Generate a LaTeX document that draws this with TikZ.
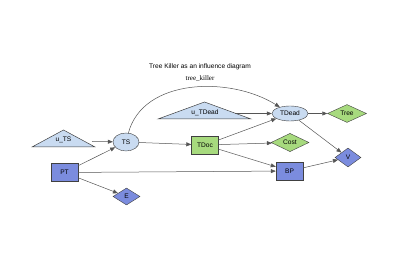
\documentclass[tikz,border=0pt]{standalone}
\usepackage{fontspec}
\setmainfont{Liberation Serif}
\setsansfont{Liberation Sans}
\usetikzlibrary{shapes.geometric,arrows.meta}
\definecolor{chancefill}{HTML}{C9DBF1}
\definecolor{decisionfill}{HTML}{7B8CDE}
\definecolor{utilityfill}{HTML}{A7DA7E}
\definecolor{edgegray}{HTML}{555555}

\tikzset{
    nodefont/.style={font=\sffamily\fontsize{6.6}{7}\selectfont},
    chance/.style={nodefont, ellipse, draw=black!75, fill=chancefill, inner sep=0pt},
    decision/.style={nodefont, rectangle, draw=black!75, fill=decisionfill, minimum width=27pt, minimum height=18pt, inner sep=0pt},
    utility/.style={nodefont, diamond, draw=black!75, inner sep=0pt},
    uncert/.style={draw=black!75, fill=chancefill, line width=0.5pt},
    edge/.style={draw=edgegray, line width=0.5pt, -{Triangle[length=5pt, width=4pt]}}
}

\begin{document}
\begin{tikzpicture}[x=1pt, y=-1pt]
    \useasboundingbox (0,0) rectangle (400,280);

    % Title
    \node[nodefont] (title) at (200,67) {Tree Killer as an influence diagram};
    \node[font=\fontsize{7}{8}\selectfont] (name) at (200,79) {tree\_killer};

    % Uncertainties (triangles)
    \draw[uncert] (32,147) -- (63.5,130) -- (95,147) -- cycle;
    \node[nodefont] (uTS) at (63.5,140) {u\_TS};
    \coordinate (uTSout) at (92,141.5);
    \draw[uncert] (158,119) -- (204.5,102) -- (251,119) -- cycle;
    \node[nodefont] (uTDead) at (205,112.5) {u\_TDead};
    \coordinate (uTDeadout) at (235,113.5);

    % Chance nodes
    \node[chance, minimum width=26pt, minimum height=18pt] (TS) at (126,142) {TS};
    \node[chance, minimum width=36pt, minimum height=15pt] (TDead) at (290,113.5) {TDead};

    % Decisions
    \node[decision] (PT) at (64.5,172.5) {PT};
    \node[decision, fill=utilityfill] (TDoc) at (205,145) {TDoc};
    \node[decision] (BP) at (289.5,171) {BP};

    % Values
    \node[utility, fill=decisionfill, minimum width=27pt, minimum height=17pt] (E) at (126.5,196.5) {E};
    \node[utility, fill=utilityfill, minimum width=39pt, minimum height=15pt] (Tree) at (347,113.5) {Tree};
    \node[utility, fill=utilityfill, minimum width=38pt, minimum height=15pt] (Cost) at (290,142.5) {Cost};
    \node[utility, fill=decisionfill, minimum width=26pt, minimum height=19pt] (V) at (348,157.5) {V};

    % Arrows
    \draw[edge] (uTSout) -- (TS);
    \draw[edge] (PT) -- (TS);
    \draw[edge] (PT) -- (E);
    \draw[edge] (PT) -- (BP);
    \draw[edge] (TS) -- (TDoc);
    \draw[edge] (TS) .. controls (143,78) and (230,76) .. (TDead);
    \draw[edge] (uTDeadout) -- (TDead);
    \draw[edge] (TDoc) -- (TDead);
    \draw[edge] (TDoc) -- (Cost);
    \draw[edge] (TDoc) -- (BP);
    \draw[edge] (TDead) -- (Tree);
    \draw[edge] (TDead) -- (V);
    \draw[edge] (BP) -- (V);
\end{tikzpicture}
\end{document}
